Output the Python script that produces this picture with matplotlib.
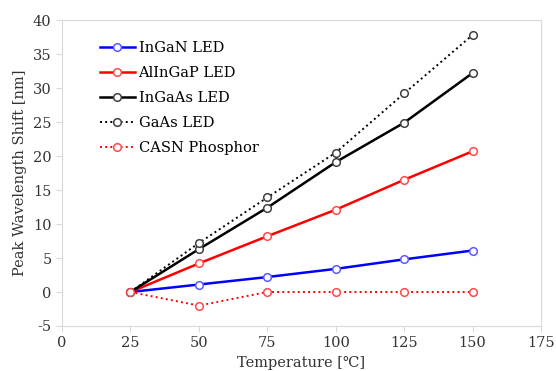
import matplotlib
matplotlib.use("Agg")
import matplotlib.pyplot as plt

temps = [25, 50, 75, 100, 125, 150]
ingan = [0, 1.1, 2.2, 3.4, 4.8, 6.1]
alingap = [0, 4.2, 8.2, 12.1, 16.5, 20.7]
ingaas = [0, 6.3, 12.4, 19.1, 24.9, 32.2]
gaas = [0, 7.2, 13.9, 20.5, 29.2, 37.8]
casn = [0, -2.0, 0, 0, 0, 0]

plt.rcParams["font.family"] = ["DejaVu Serif"]
plt.rcParams["axes.unicode_minus"] = False

fig = plt.figure(figsize=(5.56, 3.71), dpi=100)
ax = fig.add_axes([0.1115, 0.1213, 0.8615, 0.8247])

series = [
    ("InGaN LED", ingan, "#0000ff", "#5a5aff", "-", 1.8),
    ("AlInGaP LED", alingap, "#ff0000", "#ff4a4a", "-", 1.8),
    ("InGaAs LED", ingaas, "#000000", "#404040", "-", 1.8),
    ("GaAs LED", gaas, "#000000", "#404040", ":", 1.4),
    ("CASN Phosphor", casn, "#ff0000", "#ff4a4a", ":", 1.4),
]
for label, vals, col, mcol, ls, lw in series:
    ax.plot(temps, vals, linestyle=ls, color=col, lw=lw, marker="o", ms=5.5,
            mfc="white", mec=mcol, mew=1.1, label=label)

ax.set_xlim(0, 175)
ax.set_ylim(-5, 40)
ax.set_xticks(range(0, 176, 25))
ax.set_yticks(range(-5, 41, 5))
for s in ax.spines.values():
    s.set_color("#d9d9d9")
ax.tick_params(direction="out", length=4, color="#d9d9d9", labelsize=10.5, labelcolor="#333333")
ax.set_xlabel("Temperature [℃]", fontsize=10.5, color="#333333", labelpad=4)
ax.set_ylabel("Peak Wavelength Shift [nm]", fontsize=10.5, color="#333333")

ax.legend(loc="upper left", bbox_to_anchor=(0.067, 0.95), frameon=False, fontsize=10.5,
          handlelength=2.4, handletextpad=0.25, labelspacing=0.76, borderaxespad=0)

fig.savefig("out.png", dpi=100)
